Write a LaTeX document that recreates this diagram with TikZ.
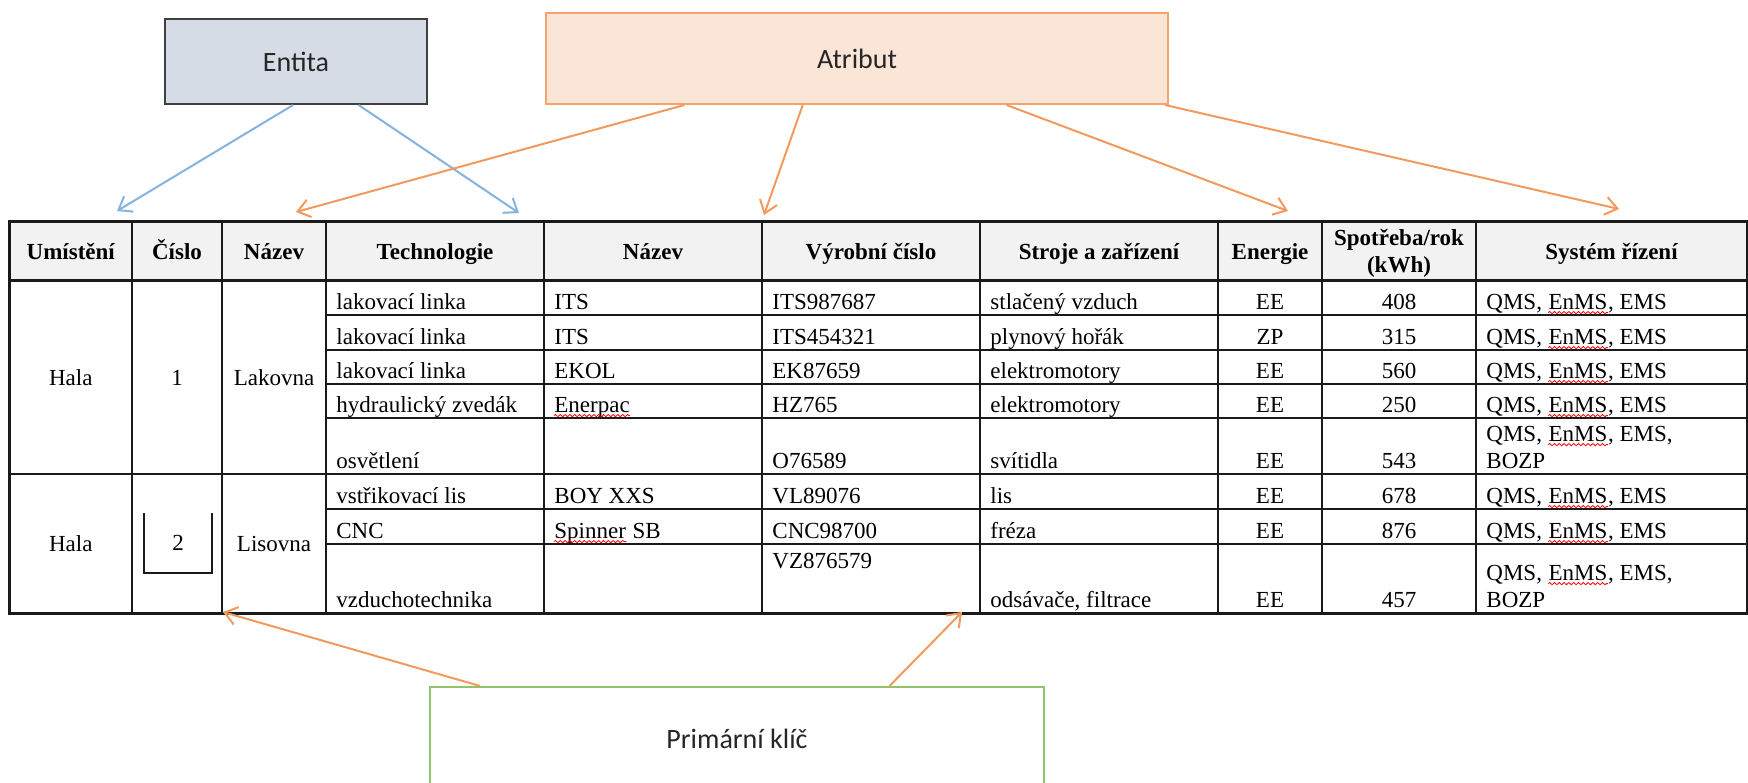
\documentclass[tikz,border=0pt]{standalone}
\usepackage{fontspec}
\setmainfont{Liberation Serif}
\newfontfamily\boxfont{Carlito}
\usetikzlibrary{arrows.meta,calc,decorations.pathmorphing}
\definecolor{entfill}{HTML}{D6DCE5}
\definecolor{entline}{HTML}{404040}
\definecolor{atrfill}{HTML}{FBE5D6}
\definecolor{atrline}{HTML}{F4A46C}
\definecolor{keyline}{HTML}{8FC46B}
\definecolor{blueline}{HTML}{84B3DF}
\definecolor{orangeline}{HTML}{F29A5E}
\definecolor{hdrfill}{HTML}{F2F2F2}
\definecolor{gridline}{HTML}{1A1A1A}

\begin{document}
\begin{tikzpicture}[x=0.5pt,y=-0.5pt,
  labelbox/.style={draw,line width=1pt,inner sep=0,font=\boxfont\fontsize{14}{16}\selectfont,text=black!85},
  conn/.style={line width=1pt,-{Straight Barb[length=6pt,width=9pt]}},
  blueconn/.style={conn,draw=blueline},
  orangeconn/.style={conn,draw=orangeline},
  hd/.style={font=\bfseries\fontsize{11.5}{13}\selectfont,inner sep=0,anchor=base},
  td/.style={font=\fontsize{11.5}{13}\selectfont,inner sep=0,anchor=base west},
  tc/.style={td,anchor=base},
  gridthin/.style={line width=0.75pt,draw=gridline},
  gridthick/.style={line width=1.5pt,draw=gridline},
  wave/.style={draw=red,line width=0.4pt,decorate,decoration={snake,amplitude=0.55pt,segment length=2.4pt}}
]
\useasboundingbox (0,0) rectangle (1748,782);
\clip (0,0) rectangle (1748,782);

% ---- legend boxes ----
\node[labelbox,fill=entfill,draw=entline,minimum width=131pt,minimum height=42.5pt] (ent) at (296,61.5) {Entita};
\node[labelbox,fill=atrfill,draw=atrline,minimum width=311pt,minimum height=45.5pt] (atr) at (857,58.5) {Atribut};
\node[labelbox,fill=white,draw=keyline,minimum width=307pt,minimum height=52pt] (key) at (737,739) {Primární klíč};

% ---- table background and grid ----
\fill[hdrfill] (9.5,221) rectangle (1747,280);
\foreach \x in {132,222,326,544,762,980,1218,1322,1476}
  \draw[gridthin] (\x,221) -- (\x,613);
\foreach \y in {315,350,384,418,509,544}
  \draw[gridthin] (326,\y) -- (1747,\y);
\draw[gridthin] (9.5,474) -- (1747,474);
\draw[gridthick] (9.5,280) -- (1747,280);
\draw[gridthick] (9.5,221) rectangle (1747,613);
\draw[gridthin] (144,513) -- (144,573) -- (212,573) -- (212,513);

% ---- header ----
\foreach \x/\t [count=\i] in {70.75/Umístění,177/Číslo,274/Název,435/Technologie,653/Název,871/Výrobní číslo,1099/Stroje a zařízení,1270/Energie,1611.5/Systém řízení}
  \node[hd] (h\i) at (\x,259) {\t};
\node[hd] (h10) at (1399,245) {Spotřeba/rok};
\node[hd] (h11) at (1399,272) {(kWh)};

% ---- grouped cells ----
\node[tc] (loc1) at (70.75,385) {Hala};
\node[tc] (num1) at (177,385) {1};
\node[tc] (dep1) at (274,385) {Lakovna};
\node[tc] (loc2) at (70.75,551.5) {Hala};
\node[tc] (num2) at (178,550) {2};
\node[tc] (dep2) at (274,551.5) {Lisovna};

% ---- technologie ----
\foreach \y/\t [count=\i] in {309/lakovací linka,344/lakovací linka,378/lakovací linka,412/hydraulický zvedák,468/osvětlení,503/vstřikovací lis,538/CNC,607/vzduchotechnika}
  \node[td] (tech\i) at (336,\y) {\t};

% ---- vyrobce ----
\foreach \y/\t [count=\i] in {309/ITS,344/ITS,378/EKOL,503/BOY XXS}
  \node[td] (mfr\i) at (554,\y) {\t};
\node[td] (mfr5) at (554,412) {Enerpac};
\draw[wave] ([yshift=-1.8pt]mfr5.base west) -- ([yshift=-1.8pt]mfr5.base east);
\node[td] (mfr6) at (554,538) {Spinner};
\node[td] (mfr7) at (mfr6.base east) {\ SB};
\draw[wave] ([yshift=-1.8pt]mfr6.base west) -- ([yshift=-1.8pt]mfr6.base east);

% ---- vyrobni cislo ----
\foreach \y/\t [count=\i] in {309/ITS987687,344/ITS454321,378/EK87659,412/HZ765,468/O76589,503/VL89076,538/CNC98700,568/VZ876579}
  \node[td] (sn\i) at (772,\y) {\t};

% ---- stroje a zarizeni ----
\foreach \y/\t [count=\i] in {309/stlačený vzduch,344/plynový hořák,378/elektromotory,412/elektromotory,468/svítidla,503/lis,538/fréza}
  \node[td] (mach\i) at (990,\y) {\t};
\node[td] (mach8) at (990,607) {odsávače, filtrace};

% ---- energie, spotreba ----
\foreach \y/\e/\s [count=\i] in {309/EE/408,344/ZP/315,378/EE/560,412/EE/250,468/EE/543,503/EE/678,538/EE/876,607/EE/457}{
  \node[tc] (en\i) at (1270,\y) {\e};
  \node[tc] (kwh\i) at (1399,\y) {\s};
}

% ---- system rizeni (EnMS set apart for its spell-check wave) ----
\foreach \y [count=\i] in {309,344,378,412,503,538}{
  \node[td] (qa\i) at (1486,\y) {QMS,\ \null};
  \node[td] (qb\i) at (qa\i.base east) {EnMS};
  \node[td] (qc\i) at (qb\i.base east) {, EMS};
  \draw[wave] ([yshift=-1.8pt]qb\i.base west) -- ([yshift=-1.8pt]qb\i.base east);
}
\foreach \y/\z [count=\i from 7] in {441/468,580/607}{
  \node[td] (qa\i) at (1486,\y) {QMS,\ \null};
  \node[td] (qb\i) at (qa\i.base east) {EnMS};
  \node[td] (qc\i) at (qb\i.base east) {, EMS,};
  \node[td] (qd\i) at (1486,\z) {BOZP};
  \draw[wave] ([yshift=-1.8pt]qb\i.base west) -- ([yshift=-1.8pt]qb\i.base east);
}

% ---- arrow targets above the header ----
\coordinate (e1t) at (117,211);
\coordinate (e2t) at (519,213);
\coordinate (a1t) at (296,212);
\coordinate (a2t) at (764,215);
\coordinate (a3t) at (1288,211);
\coordinate (a4t) at (1619,209);
\coordinate (p1t) at (223,612);
\coordinate (p2t) at (962,612);

% ---- connectors ----
\draw[blueconn] ($(ent.south west)!0.489!(ent.south east)$) -- (e1t);
\draw[blueconn] ($(ent.south west)!0.737!(ent.south east)$) -- (e2t);
\draw[orangeconn] ($(atr.south west)!0.2235!(atr.south east)$) -- (a1t);
\draw[orangeconn] ($(atr.south west)!0.413!(atr.south east)$) -- (a2t);
\draw[orangeconn] ($(atr.south west)!0.7395!(atr.south east)$) -- (a3t);
\draw[orangeconn] ($(atr.south west)!0.9936!(atr.south east)$) -- (a4t);
\draw[orangeconn] ($(key.north west)!0.083!(key.north east)$) -- (p1t);
\draw[orangeconn] ($(key.north west)!0.7476!(key.north east)$) -- (p2t);
\end{tikzpicture}
\end{document}
